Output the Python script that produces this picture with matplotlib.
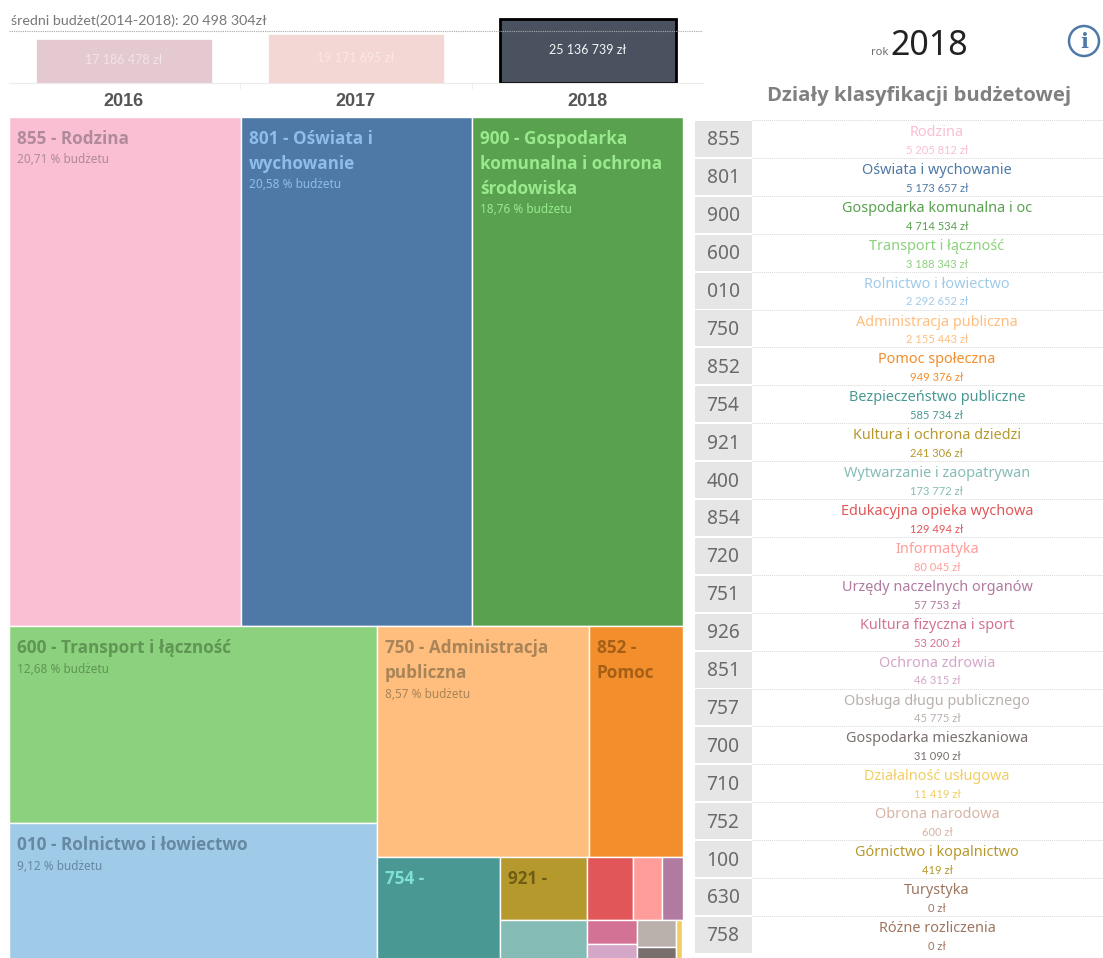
import matplotlib
matplotlib.use("Agg")
import matplotlib.pyplot as plt
from matplotlib.patches import Circle, Rectangle

W, H = 1103, 958

# Data
years = ["2016", "2017", "2018"]
year_totals = [17186478, 19171695, 25136739]
year_colors = ["#e5c9d1", "#f3d7d4", "#4a5260"]
year_text_colors = ["#f3e4e8", "#f9e8e6", "#f4f4f4"]
mean_budget = 20498304

codes = ["855", "801", "900", "600", "010", "750", "852", "754", "921", "400", "854",
         "720", "751", "926", "851", "757", "700", "710", "752", "100", "630", "758"]
names = ["Rodzina", "Oświata i wychowanie", "Gospodarka komunalna i oc", "Transport i łączność",
         "Rolnictwo i łowiectwo", "Administracja publiczna", "Pomoc społeczna",
         "Bezpieczeństwo publiczne", "Kultura i ochrona dziedzi", "Wytwarzanie i zaopatrywan",
         "Edukacyjna opieka wychowa", "Informatyka", "Urzędy naczelnych organów",
         "Kultura fizyczna i sport", "Ochrona zdrowia", "Obsługa długu publicznego",
         "Gospodarka mieszkaniowa", "Działalność usługowa", "Obrona narodowa",
         "Górnictwo i kopalnictwo", "Turystyka", "Różne rozliczenia"]
amounts = [5205812, 5173657, 4714534, 3188343, 2292652, 2155443, 949376, 585734, 241306,
           173772, 129494, 80045, 57753, 53200, 46315, 45775, 31090, 11419, 600, 419, 0, 0]
colors = ["#fabfd2", "#4e79a7", "#59a14f", "#8cd17d", "#a0cbe8", "#ffbe7d", "#f28e2b",
          "#499894", "#b6992d", "#86bcb6", "#e15759", "#ff9d9a", "#b07aa1", "#d37295",
          "#d4a6c8", "#bab0ac", "#79706e", "#f1ce63", "#d7b5a6", "#b6992d", "#9d7660", "#9d7660"]

# how the treemap is nested: "v" stacks top to bottom, "h" goes left to right
tree = ("v", [
    ("h", ["855", "801", "900"]),
    ("h", [
        ("v", ["600", "010"]),
        ("v", [
            ("h", ["750", "852"]),
            ("h", [
                "754",
                ("v", ["921", "400"]),
                ("v", [
                    ("h", ["854", "720", "751"]),
                    ("h", [
                        ("v", ["926", "851"]),
                        ("v", ["757", "700"]),
                        ("v", ["710", "752", "100"]),
                    ]),
                ]),
            ]),
        ]),
    ]),
])

tree_labels = {
    "855": (["855 - Rodzina"], "#b08a9c", True),
    "801": (["801 - Oświata i", "wychowanie"], "#8fbdeb", True),
    "900": (["900 - Gospodarka", "komunalna i ochrona", "środowiska"], "#98ea8c", True),
    "600": (["600 - Transport i łączność"], "#5f9654", True),
    "010": (["010 - Rolnictwo i łowiectwo"], "#6588a3", True),
    "750": (["750 - Administracja", "publiczna"], "#a98458", True),
    "852": (["852 -", "Pomoc"], "#a65f16", False),
    "754": (["754 -"], "#7fe0d6", False),
    "921": (["921 -"], "#6f5d14", False),
}

amount_by_code = dict(zip(codes, amounts))
color_by_code = dict(zip(codes, colors))
total = sum(amounts)


def node_sum(node):
    if isinstance(node, str):
        return amount_by_code[node]
    return sum(node_sum(c) for c in node[1])


def layout(node, x, y, w, h, out):
    if isinstance(node, str):
        out[node] = (x, y, w, h)
        return
    size = node_sum(node)
    for child in node[1]:
        share = node_sum(child) / size
        if node[0] == "h":
            layout(child, x, y, w * share, h, out)
            x += w * share
        else:
            layout(child, x, y, w, h * share, out)
            y += h * share


def add_axes_px(left, top, right, bottom):
    return fig.add_axes([left / W, 1 - bottom / H, (right - left) / W, (bottom - top) / H])


def money(v):
    return f"{v:,}".replace(",", " ") + " zł"


fig = plt.figure(figsize=(W / 100, H / 100), dpi=100, facecolor="white")
plt.rcParams["font.family"] = ["Noto Sans", "DejaVu Sans"]

# Budget bars
ax_bar = add_axes_px(9, 10, 703, 83)
x_pos = list(range(len(years)))
ax_bar.bar(x_pos, year_totals, width=0.76, color=year_colors,
           edgecolor=["white", "white", "black"], linewidth=[0.5, 0.5, 2], zorder=2)
ax_bar.axhline(mean_budget, color="#a8a8a8", linestyle=(0, (1, 1)), linewidth=0.8, zorder=3)
for i, v in enumerate(year_totals):
    ax_bar.text(i, v * 0.52, money(v), color=year_text_colors[i], fontsize=9,
                family="Lato", ha="center", va="center", zorder=4)
ax_bar.set_xlim(-0.495, 2.496)
ax_bar.set_ylim(0, 28600000)
ax_bar.set_yticks([])
ax_bar.set_xticks(x_pos)
ax_bar.set_xticklabels(years, fontsize=13, fontweight="bold", family="Liberation Sans", color="#555555")
ax_bar.set_xticks([0.5, 1.5], minor=True)
ax_bar.tick_params(axis="x", which="major", length=0, pad=7.5)
ax_bar.tick_params(axis="x", which="minor", length=4, color="#ececec")
for side in ["top", "left", "right"]:
    ax_bar.spines[side].set_visible(False)
ax_bar.spines["bottom"].set_color("#ececec")
fig.text(11 / W, 1 - 21 / H, "średni budżet(2014-2018): 20 498 304zł", fontsize=10.3,
         family="Lato", color="#777777", va="center")

# Treemap
ax_tree = add_axes_px(9, 117, 682.5, 965)
ax_tree.set_xlim(0, 1)
ax_tree.set_ylim(1, 0)
ax_tree.axis("off")
rects = {}
layout(tree, 0, 0, 1, 1, rects)
for code, (x, y, w, h) in rects.items():
    ax_tree.add_patch(Rectangle((x, y), w, h, facecolor=color_by_code[code],
                                edgecolor="white", linewidth=1))
    if code in tree_labels:
        lines, col, show_pct = tree_labels[code]
        off = -22
        for line in lines:
            ax_tree.annotate(line, (x, y), xytext=(8 * 0.72, off * 0.72), textcoords="offset points",
                             fontsize=12.3, fontweight="bold", family="Open Sans",
                             color=col, va="center", ha="left")
            off -= 25
        if show_pct:
            pct = f"{amount_by_code[code] / total * 100:.2f}".replace(".", ",") + " % budżetu"
            ax_tree.annotate(pct, (x, y), xytext=(8 * 0.72, (off + 4) * 0.72), textcoords="offset points",
                             fontsize=8.5, color=col, va="center", ha="left")

# Table of budget sections
ax_tab = add_axes_px(695, 120, 1103, 120 + 37.9 * len(codes))
ax_tab.set_xlim(695, 1103)
ax_tab.set_ylim(len(codes), 0)
ax_tab.axis("off")
rows = [i + 0.5 for i in range(len(codes))]
ax_tab.barh(rows, [57] * len(codes), left=695, height=0.95, color="#e6e6e6")
ax_tab.hlines(range(len(codes) + 1), 752, 1103, color="#d6d6d6", linestyle=(0, (1, 1)), linewidth=0.7)
for i, code in enumerate(codes):
    ax_tab.text(723, i + 0.54, code, fontsize=13.8, color="#6a6a6a", ha="center", va="center")
    ax_tab.text(937, i + 0.33, names[i], fontsize=10.4, color=colors[i], ha="center", va="center")
    ax_tab.text(937, i + 0.80, money(amounts[i]), fontsize=8, family="Lato",
                color=colors[i], ha="center", va="center")

# Header
fig.text(888 / W, 1 - 55 / H, "rok", fontsize=8, color="#6e6e6e", ha="right", va="baseline")
fig.text(890 / W, 1 - 55 / H, "2018", fontsize=24.5, color="#222222", ha="left", va="baseline")
fig.text(919 / W, 1 - 96 / H, "Działy klasyfikacji budżetowej", fontsize=14.6, fontweight="bold",
         family="Open Sans", color="#808080", ha="center", va="center")

ax_top = fig.add_axes([0, 0, 1, 1], facecolor="none")
ax_top.set_xlim(0, W)
ax_top.set_ylim(H, 0)
ax_top.axis("off")
ax_top.add_patch(Circle((1084, 41), 15, facecolor="white", edgecolor="#4e79a7", linewidth=1.8))
ax_top.text(1084, 41.5, "i", fontsize=15, fontweight="bold", family="DejaVu Serif",
            color="#4e79a7", ha="center", va="center")

fig.savefig("out.png", dpi=100)
